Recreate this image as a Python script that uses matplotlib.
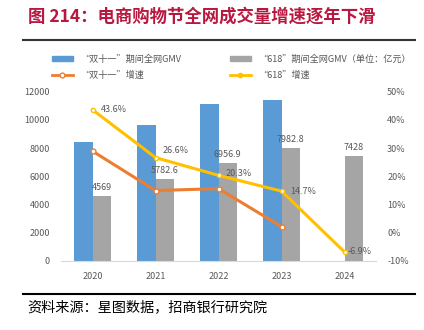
import matplotlib
matplotlib.use("Agg")
import matplotlib.pyplot as plt
from matplotlib.lines import Line2D
from matplotlib.patches import Patch
import numpy as np

plt.rcParams['font.family'] = ['Noto Sans CJK SC', 'DejaVu Sans']

years = ["2020", "2021", "2022", "2023", "2024"]
gmv_1111 = [8403.0, 9651.2, 11154.0, 11386.0, None]
gmv_618 = [4569.0, 5782.6, 6956.9, 7982.8, 7428.0]
growth_1111 = [28.9, 14.9, 15.6, 2.1, None]
growth_618 = [43.6, 26.6, 20.3, 14.7, -6.9]
label_618 = ["4569", "5782.6", "6956.9", "7982.8", "7428"]
label_g618 = ["43.6%", "26.6%", "20.3%", "14.7%", "-6.9%"]

BLUE = "#5B9BD5"
GRAY = "#A5A5A5"
ORANGE = "#ED7D31"
YELLOW = "#FFC000"
TXT = "#595959"

W, H = 424, 330
fig = plt.figure(figsize=(W / 100, H / 100), dpi=100)
ax = fig.add_axes([61 / W, (H - 260.7) / H, 315 / W, 169 / H])
ax2 = ax.twinx()

x = np.arange(len(years))
bw = 0.286
bx = [xi - bw / 2 for xi, v in zip(x, gmv_1111) if v is not None]
bv = [v for v in gmv_1111 if v is not None]
ax.bar(bx, bv, width=bw, color=BLUE, zorder=2)
ax.bar(x + bw / 2, gmv_618, width=bw, color=GRAY, zorder=2)
for xi, v, lab in zip(x, gmv_618, label_618):
    ax.text(xi + bw / 2, v + 280, lab, ha="center", va="bottom", fontsize=6.5, color=TXT)

ax.set_xlim(-0.5, 4.5)
ax.set_ylim(0, 12000)
ax.set_yticks(np.arange(0, 12001, 2000))
ax.set_xticks(x)
ax.set_xticklabels(years)
for s in ["top", "right", "left"]:
    ax.spines[s].set_visible(False)
ax.spines["bottom"].set_color("#D9D9D9")
ax.tick_params(axis="both", length=0, labelsize=6.5, colors=TXT)
ax.tick_params(axis="y", pad=8)
ax.tick_params(axis="x", pad=8)

gx = [xi for xi, g in zip(x, growth_1111) if g is not None]
gv = [g for g in growth_1111 if g is not None]
ax2.plot(gx, gv, color=ORANGE, lw=2.2, marker="o", ms=3.5, mfc="white", mec=ORANGE, mew=1, zorder=3)
ax2.plot(x, growth_618, color=YELLOW, lw=2.2, marker="o", ms=3, mfc="white", mec=YELLOW, mew=1, zorder=4)
offs = [(6, 0), (5, 5), (5, 1), (6, 0), (2, 0)]
for xi, g, lab, o in zip(x, growth_618, label_g618, offs):
    ax2.annotate(lab, (xi, g), xytext=o, textcoords="offset points", ha="left", va="center",
                 fontsize=6.5, color=TXT)
ax2.set_ylim(-10, 50)
ax2.set_yticks(np.arange(-10, 51, 10))
ax2.set_yticklabels([f"{v}%" for v in range(-10, 51, 10)])
for s in ["top", "right", "left", "bottom"]:
    ax2.spines[s].set_visible(False)
ax2.tick_params(axis="y", length=0, labelsize=6.5, colors=TXT, pad=8)

# legend
handles1 = [Patch(color=BLUE), Line2D([0], [0], color=ORANGE, lw=2, marker="o", ms=3.5, mfc="white", mec=ORANGE)]
labels1 = ["“双十一”期间全网GMV", "“双十一”增速"]
handles2 = [Patch(color=GRAY), Line2D([0], [0], color=YELLOW, lw=2, marker="o", ms=3, mfc=YELLOW, mec=YELLOW)]
labels2 = ["“618”期间全网GMV（单位：亿元）", "“618”增速"]
common = dict(loc="upper left", frameon=False, fontsize=6.6, handlelength=2.3, handleheight=0.5,
              labelspacing=0.75, handletextpad=0.8, borderaxespad=0, labelcolor=TXT)
fig.legend(handles1, labels1, bbox_to_anchor=(48 / W, 1 - 51 / H), **common)
fig.legend(handles2, labels2, bbox_to_anchor=(226 / W, 1 - 51 / H), **common)

# title & frame lines
fig.text(28 / W, 1 - 17 / H, "图 214：电商购物节全网成交量增速逐年下滑", fontsize=12.5,
         fontweight="bold", color="#B8173F", va="center", ha="left")
fig.add_artist(Line2D([23 / W, 415 / W], [1 - 40 / H, 1 - 40 / H], color="#333333", lw=1.5))
fig.add_artist(Line2D([23 / W, 415 / W], [1 - 294.3 / H, 1 - 294.3 / H], color="black", lw=1.5))
fig.text(27 / W, 1 - 307 / H, "资料来源：星图数据，招商银行研究院", fontsize=10.2,
         color="black", va="center", ha="left")

fig.savefig("out.png", dpi=100)
